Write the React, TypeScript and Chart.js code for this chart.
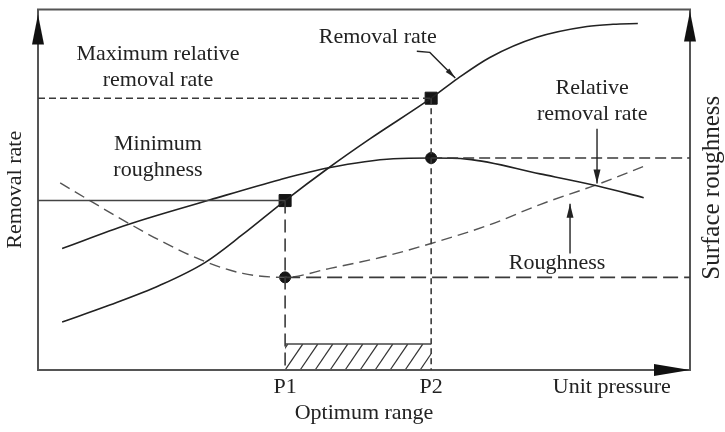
import React, { useEffect, useRef } from "react";
import { Chart, registerables } from "chart.js";

Chart.register(...registerables);

// ---- Data (unit pressure on x, 0–100; responses on y, 0–100) ----
const removalX = [3.7, 11.0, 18.7, 25.6, 31.4, 37.9, 44.6, 50.9, 60.3, 64.4, 69.3, 76.5, 84.2, 88.2, 92.0];
const removalY = [13.3, 18.0, 23.5, 29.8, 37.6, 47.0, 56.1, 64.1, 75.4, 80.9, 86.7, 92.3, 95.3, 95.9, 96.1];

const relativeX = [3.7, 13.7, 26.4, 37.1, 44.6, 54.5, 60.3, 65.8, 77.0, 85.7, 92.9];
const relativeY = [33.7, 40.3, 47.2, 52.8, 56.1, 58.6, 58.8, 58.5, 54.4, 51.1, 47.8];

const roughX = [3.4, 7.2, 13.7, 19.6, 25.6, 31.4, 37.9, 44.8, 52.5, 60.3, 69.3, 77.0, 85.7, 92.8];
const roughY = [51.9, 47.8, 40.9, 35.1, 30.1, 26.8, 25.7, 28.2, 31.2, 35.1, 40.3, 45.9, 51.4, 56.4];

const P1 = 37.9;
const P2 = 60.3;
const removalAtP1 = 47.0;
const maxRelativeRemoval = 75.4;
const peakRelative = 58.8;
const minRoughness = 25.7;
const optimumBand = 7.2;

const xTickValues = [P1, P2, 88];
const xTickLabels = ["P1", "P2", "Unit pressure"];

const FONT = "'Liberation Serif', 'Times New Roman', serif";
const INK = "#222";
const FRAME = "#555";

const toPts = (xs: number[], ys: number[]) => xs.map((x, i) => ({ x, y: ys[i] }));

const textLabels = [
  { lines: ["Maximum relative", "removal rate"], x: 18.4, y: 87.6 },
  { lines: ["Minimum", "roughness"], x: 18.4, y: 62.7 },
  { lines: ["Removal rate"], x: 52.1, y: 92.3 },
  { lines: ["Relative", "removal rate"], x: 85.0, y: 78.2 },
  { lines: ["Roughness"], x: 79.6, y: 29.6 },
];

const schematicPlugin = {
  id: "schematic",
  beforeDatasetsDraw(chart: any) {
    const { ctx, chartArea: a, scales } = chart;
    const xs = scales.x, ys = scales.y;
    ctx.save();
    // hatched optimum band
    const hx0 = xs.getPixelForValue(P1), hx1 = xs.getPixelForValue(P2);
    const hy0 = ys.getPixelForValue(optimumBand), hy1 = ys.getPixelForValue(0);
    ctx.save();
    ctx.beginPath();
    ctx.rect(hx0, hy0, hx1 - hx0, hy1 - hy0);
    ctx.clip();
    ctx.strokeStyle = "#333";
    ctx.lineWidth = 1.2;
    const h = hy1 - hy0;
    for (let x = hx0 - 30; x < hx1 + 30; x += 15) {
      ctx.beginPath();
      ctx.moveTo(x, hy1);
      ctx.lineTo(x + h * 0.68, hy0);
      ctx.stroke();
    }
    ctx.restore();
    ctx.strokeStyle = "#444";
    ctx.lineWidth = 1.6;
    ctx.beginPath();
    ctx.moveTo(hx0, hy0);
    ctx.lineTo(hx1, hy0);
    ctx.stroke();

    // frame
    ctx.strokeStyle = FRAME;
    ctx.lineWidth = 2;
    ctx.strokeRect(a.left, a.top, a.right - a.left, a.bottom - a.top);
    // arrowheads
    ctx.fillStyle = "#111";
    const tri = (p: number[][]) => {
      ctx.beginPath();
      ctx.moveTo(p[0][0], p[0][1]);
      ctx.lineTo(p[1][0], p[1][1]);
      ctx.lineTo(p[2][0], p[2][1]);
      ctx.closePath();
      ctx.fill();
    };
    tri([[a.left, a.top + 5], [a.left - 6, a.top + 35], [a.left + 6, a.top + 35]]);
    tri([[a.right, a.top + 2], [a.right - 6, a.top + 32], [a.right + 6, a.top + 32]]);
    tri([[a.right, a.bottom], [a.right - 36, a.bottom - 6], [a.right - 36, a.bottom + 6]]);
    ctx.restore();
  },
  afterDatasetsDraw(chart: any) {
    const { ctx, scales, chartArea: a } = chart;
    const xs = scales.x, ys = scales.y;
    const px = (v: number) => xs.getPixelForValue(v);
    const py = (v: number) => ys.getPixelForValue(v);
    ctx.save();
    ctx.fillStyle = INK;
    ctx.font = `22px ${FONT}`;
    ctx.textAlign = "center";
    ctx.textBaseline = "middle";
    for (const l of textLabels) {
      l.lines.forEach((t, i) => ctx.fillText(t, px(l.x), py(l.y) + i * 26));
    }
    // right axis title
    ctx.save();
    ctx.font = `25px ${FONT}`;
    ctx.translate(a.right + 22, (a.top + a.bottom) / 2 - 2);
    ctx.rotate(-Math.PI / 2);
    ctx.fillText("Surface roughness", 0, 0);
    ctx.restore();

    // arrows
    ctx.strokeStyle = "#222";
    ctx.lineWidth = 1.4;
    const arrow = (pts: number[][], len: number, half: number) => {
      ctx.beginPath();
      ctx.moveTo(pts[0][0], pts[0][1]);
      for (let i = 1; i < pts.length; i++) ctx.lineTo(pts[i][0], pts[i][1]);
      ctx.stroke();
      const [x1, y1] = pts[pts.length - 1];
      const [x0, y0] = pts[pts.length - 2];
      const ang = Math.atan2(y1 - y0, x1 - x0);
      const bx = x1 - Math.cos(ang) * len, by = y1 - Math.sin(ang) * len;
      const nx = -Math.sin(ang) * half, ny = Math.cos(ang) * half;
      ctx.beginPath();
      ctx.moveTo(x1, y1);
      ctx.lineTo(bx + nx, by + ny);
      ctx.lineTo(bx - nx, by - ny);
      ctx.closePath();
      ctx.fill();
    };
    arrow([[px(58.1), py(88.4)], [px(60.1), py(88.1)], [px(64.0), py(81.0)]], 11, 2.5);
    arrow([[px(85.74), py(66.9)], [px(85.74), py(51.7)]], 14, 3.5);
    arrow([[px(81.6), py(32.3)], [px(81.6), py(46.1)]], 14, 3.5);
    ctx.restore();
  },
};

export default function App() {
  const ref = useRef<HTMLCanvasElement>(null);
  useEffect(() => {
    const canvas = ref.current!;
    Chart.defaults.font.family = FONT;
    const guide = (pts: { x: number; y: number }[], dash: number[], width = 1.6, color = "#3a3a3a") => ({
      data: pts,
      showLine: true,
      borderColor: color,
      borderWidth: width,
      borderDash: dash,
      pointRadius: 0,
      tension: 0,
    });
    const chart = new Chart(canvas, {
      type: "scatter",
      data: {
        datasets: [
          guide([{ x: 0, y: removalAtP1 }, { x: P1, y: removalAtP1 }], [], 1.6, "#444"),
          guide([{ x: 0, y: maxRelativeRemoval }, { x: P2, y: maxRelativeRemoval }], [7, 4]),
          guide([{ x: P2, y: peakRelative }, { x: 100, y: peakRelative }], [11, 5]),
          guide([{ x: P1, y: minRoughness }, { x: 100, y: minRoughness }], [15, 6]),
          guide([{ x: P1, y: removalAtP1 }, { x: P1, y: 0 }], [13, 6]),
          guide([{ x: P2, y: maxRelativeRemoval }, { x: P2, y: 0 }], [6, 4]),
          {
            label: "Removal rate",
            data: toPts(removalX, removalY),
            showLine: true,
            borderColor: "#222",
            borderWidth: 1.6,
            pointRadius: 0,
            cubicInterpolationMode: "monotone",
          },
          {
            label: "Relative removal rate",
            data: toPts(relativeX, relativeY),
            showLine: true,
            borderColor: "#222",
            borderWidth: 1.6,
            pointRadius: 0,
            cubicInterpolationMode: "monotone",
          },
          {
            label: "Roughness",
            data: toPts(roughX, roughY),
            showLine: true,
            borderColor: "#555",
            borderWidth: 1.4,
            borderDash: [11, 6],
            pointRadius: 0,
            cubicInterpolationMode: "monotone",
          },
          {
            data: [{ x: P1, y: removalAtP1 }, { x: P2, y: maxRelativeRemoval }],
            showLine: false,
            pointStyle: "rect",
            pointRadius: 8.5,
            backgroundColor: "#151515",
            borderColor: "#151515",
            borderWidth: 1,
          },
          {
            data: [{ x: P2, y: peakRelative }, { x: P1, y: minRoughness }],
            showLine: false,
            pointStyle: "circle",
            pointRadius: 5.5,
            backgroundColor: "#151515",
            borderColor: "#151515",
            borderWidth: 1,
          },
        ] as any,
      },
      options: {
        responsive: false,
        animation: false,
        devicePixelRatio: 1,
        layout: { padding: { top: 8, left: 0, right: 0, bottom: 0 } },
        plugins: { legend: { display: false }, tooltip: { enabled: false } },
        events: [],
        scales: {
          x: {
            type: "linear",
            min: 0,
            max: 100,
            grid: { display: false, drawTicks: false },
            border: { display: false },
            afterBuildTicks: (s: any) => {
              s.ticks = xTickValues.map((v) => ({ value: v }));
            },
            afterFit: (s: any) => {
              s.height = 62;
            },
            ticks: {
              autoSkip: false,
              maxRotation: 0,
              padding: 4,
              color: INK,
              font: { size: 22, family: FONT },
              callback: (v: any) => {
                const i = xTickValues.indexOf(v);
                return i >= 0 ? xTickLabels[i] : "";
              },
            },
            title: {
              display: true,
              text: "Optimum range",
              color: INK,
              font: { size: 22, family: FONT },
              padding: { top: 0, bottom: 6 },
            },
          },
          y: {
            type: "linear",
            min: 0,
            max: 100,
            grid: { display: false, drawTicks: false },
            border: { display: false },
            ticks: { display: false },
            afterFit: (s: any) => {
              s.width = 38;
            },
            title: {
              display: true,
              text: "Removal rate",
              color: INK,
              font: { size: 22, family: FONT },
              padding: { top: 2, bottom: 0 },
            },
          },
          y2: {
            type: "linear",
            position: "right",
            min: 0,
            max: 100,
            grid: { display: false, drawTicks: false },
            border: { display: false },
            ticks: { display: false },
            afterFit: (s: any) => {
              s.width = 35;
            },
          },
        },
      } as any,
      plugins: [schematicPlugin],
    });
    return () => chart.destroy();
  }, []);
  return (
    <div style={{ position: "fixed", left: 0, top: 0, width: 725, height: 432, background: "#fff" }}>
      <canvas ref={ref} width={725} height={432} style={{ display: "block" }} />
    </div>
  );
}
